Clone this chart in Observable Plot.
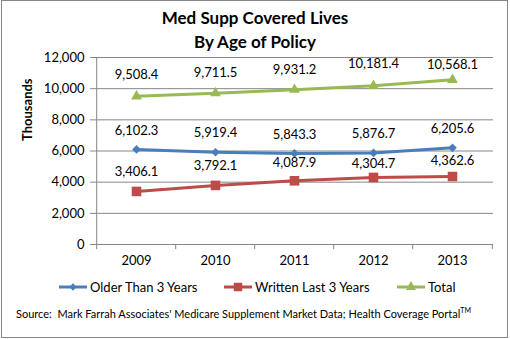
<!DOCTYPE html>
<html>
<head>
<meta charset="utf-8">
<script src="https://cdn.jsdelivr.net/npm/d3@7"></script>
<script src="https://cdn.jsdelivr.net/npm/@observablehq/plot@0.6"></script>
<style>
  body { margin: 0; background: #fff; }
  #wrap { position: relative; width: 510px; height: 339px; font-family: Lato, "Liberation Sans", sans-serif; color: #000; }
  #border { position: absolute; left: 1px; top: 0px; width: 507px; height: 338px; border: 1px solid #868686; box-sizing: border-box; pointer-events: none; }
  #title { position: absolute; left: 0; width: 510px; top: 6px; text-align: center; font-weight: bold; font-size: 17px; line-height: 24px; }
  .leg { position: absolute; top: 279px; font-size: 13px; display: flex; align-items: center; white-space: nowrap; }
  .leg svg { margin-right: 2px; }
  #source { position: absolute; left: 16px; top: 306px; font-size: 11px; white-space: nowrap; }
  #source sup { font-size: 7px; vertical-align: 5px; }
</style>
</head>
<body>
<div id="wrap">
  <div id="chart"></div>
  <div id="title">Med Supp Covered Lives<br>By Age of Policy</div>
  <div id="legend"></div>
  <div id="source">Source:&nbsp; Mark Farrah Associates' Medicare Supplement Market Data; Health Coverage Portal<sup>TM</sup></div>
  <div id="border"></div>
</div>
<script>
const years = ["2009", "2010", "2011", "2012", "2013"];
const olderThan3 = [6102.3, 5919.4, 5843.3, 5876.7, 6205.6];
const writtenLast3 = [3406.1, 3792.1, 4087.9, 4304.7, 4362.6];
const total = [9508.4, 9711.5, 9931.2, 10181.4, 10568.1];
const seriesNames = ["Older Than 3 Years", "Written Last 3 Years", "Total"];
const seriesColors = ["#4A7EBB", "#BE4B48", "#98B954"];
const seriesSymbols = ["diamond2", "square", "triangle"];
const yTicks = [0, 2000, 4000, 6000, 8000, 10000, 12000];

// label offsets (pixels above each point), styling only
const labelDy = [
  [-19, -19, -19, -19, -19],
  [-20, -20, -18, -14, -16],
  [-21, -20, -20, -22, -15]
];

const seriesValues = [olderThan3, writtenLast3, total];
const rows = [];
seriesNames.forEach((s, i) => years.forEach((y, j) => rows.push({series: s, year: y, value: seriesValues[i][j], idx: i, j})));

const fmt = d3.format(",.1f");
const symR = [3.9, 5.4, 4];

const marks = [
  Plot.ruleY(yTicks, {stroke: "#868686", strokeWidth: 1}),
  Plot.ruleX([years[0]], {dx: -39.8, stroke: "#868686"}),
  Plot.axisY({ticks: yTicks, tickFormat: d3.format(","), tickSize: 5, tickPadding: 6, fontSize: 13, stroke: "#868686", color: "#000"}),
  Plot.axisX({tickSize: 0, tickPadding: 11, fontSize: 13, color: "#000"}),
  Plot.ruleX(years, {x: d => d, y1: 0, y2: -330, dx: -39.8, stroke: "#868686"}),
  Plot.ruleX([years[4]], {x: d => d, y1: 0, y2: -330, dx: 39.8, stroke: "#868686"}),
  Plot.text(["Thousands"], {frameAnchor: "left", dx: -68, dy: -10, rotate: -90, fontWeight: "bold", fontSize: 13, fill: "#000"})
];
seriesNames.forEach((s, i) => {
  const data = rows.filter(r => r.idx === i);
  marks.push(Plot.line(data, {x: "year", y: "value", stroke: seriesColors[i], strokeWidth: 3}));
  marks.push(Plot.dot(data, {x: "year", y: "value", symbol: seriesSymbols[i], fill: seriesColors[i], r: symR[i], stroke: "none"}));
  data.forEach(d => {
    marks.push(Plot.text([d], {x: "year", y: "value", text: v => fmt(v.value), dy: labelDy[i][d.j], fontSize: 13, fill: "#000"}));
  });
});

const chart = Plot.plot({
  width: 510,
  height: 339,
  marginTop: 57,
  marginBottom: 95,
  marginLeft: 95,
  marginRight: 17,
  style: {fontFamily: "Lato, 'Liberation Sans', sans-serif", background: "transparent"},
  x: {type: "point", domain: years, padding: 0.5, label: null},
  y: {domain: [0, 12000], label: null},
  marks: [
    ...marks,
    Plot.ruleY([0], {stroke: "#868686"})
  ]
});
document.getElementById("chart").appendChild(chart);

// legend
const legX = [58, 223, 396];
const legSymbols = [d3.symbolDiamond2, d3.symbolSquare, d3.symbolTriangle];
const legSizes = [34, 72, 45];
const legend = document.getElementById("legend");
seriesNames.forEach((s, i) => {
  const item = document.createElement("div");
  item.className = "leg";
  item.style.left = legX[i] + "px";
  const sym = d3.symbol(legSymbols[i], legSizes[i])();
  item.innerHTML = `<svg width="30" height="16"><line x1="1" x2="29" y1="8" y2="8" stroke="${seriesColors[i]}" stroke-width="3"/><path transform="translate(15,8)" d="${sym}" fill="${seriesColors[i]}"/></svg><span>${s}</span>`;
  legend.appendChild(item);
});
</script>
</body>
</html>
